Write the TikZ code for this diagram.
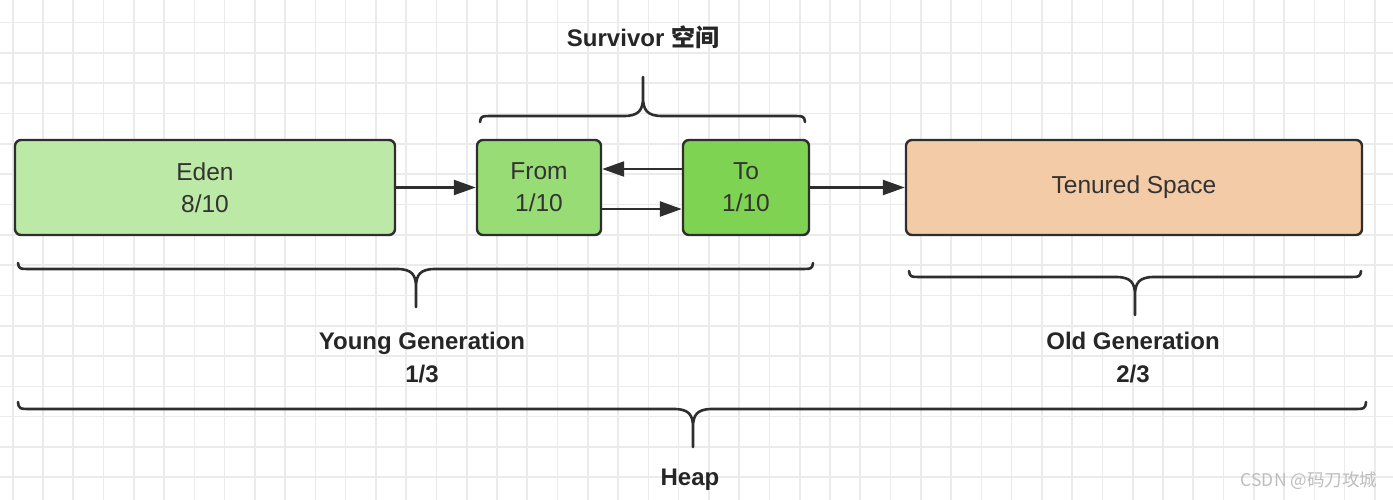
\documentclass[tikz,border=0pt]{standalone}
\usepackage{fontspec}
\setmainfont{Liberation Sans}
\newfontfamily\cjk{Noto Sans CJK SC}
\usepackage{tikz}
\usetikzlibrary{arrows.meta}

\definecolor{edenfill}{HTML}{BCE9A5}
\definecolor{fromfill}{HTML}{98DC76}
\definecolor{tofill}{HTML}{7ED352}
\definecolor{oldfill}{HTML}{F4CBA7}
\definecolor{boxline}{HTML}{2E2E2E}
\definecolor{boxtext}{HTML}{333333}
\definecolor{gridgray}{HTML}{EBEBEB}
\definecolor{marktext}{HTML}{BDBDBD}

\tikzset{
  box/.style={draw=boxline, line width=2.4pt, rounded corners=6pt, text=boxtext,
    font=\fontsize{24.5}{32}\selectfont, align=center, minimum height=95pt, inner sep=0pt},
  flow/.style={draw=boxline, line width=2.4pt, -{Triangle[length=22pt,width=15pt]}},
  bracepath/.style={draw=boxline, line width=2.6pt, line cap=round, line join=round},
  lbl/.style={font=\fontsize{24}{33}\selectfont\bfseries, text=black!85, align=center},
  gridline/.style={draw=gridgray, line width=1.6pt}
}

% left, right, tip x, line y, tip depth, curl
\newcommand{\hbrace}[6]{%
  \draw[bracepath] ({#1},{#4+#6}) .. controls ({#1+1},{#4}) .. ({#1+14},{#4})
    -- ({#3-19},{#4}) .. controls ({#3-4},{#4}) and ({#3},{#4+0.16*(#5)}) .. ({#3},{#4+0.48*(#5)}) -- ({#3},{#4+#5})
    ({#3},{#4+#5}) -- ({#3},{#4+0.48*(#5)}) .. controls ({#3},{#4+0.16*(#5)}) and ({#3+4},{#4}) .. ({#3+19},{#4})
    -- ({#2-14},{#4}) .. controls ({#2-1},{#4}) .. ({#2},{#4+#6});
}

\begin{document}
\begin{tikzpicture}[x=1pt, y=-1pt]
  \useasboundingbox (0,0) rectangle (1393,500);
  \fill[white] (0,0) rectangle (1393,500);

  % grid
  \foreach \gx in {0,...,45}
    \draw[gridline] ({12.7+30.27*\gx},0) -- ++(0,500);
  \foreach \gy in {0,...,15}
    \draw[gridline] (0,{22.7+30.3*\gy}) -- ++(1393,0);

  % spaces
  \node[box, fill=edenfill, minimum width=380pt] (eden) at (205,187.5) {Eden\\8/10};
  \node[box, fill=fromfill, minimum width=124pt] (from) at (539,187.5) {From\\1/10};
  \node[box, fill=tofill, minimum width=126pt] (to) at (746,187.5) {To\\1/10};
  \node[box, fill=oldfill, minimum width=456pt] (old) at (1134,187.5) {Tenured Space};

  \draw[flow] (eden.east) -- (from.west);
  \draw[flow] ([yshift=18.5pt]to.west) -- ([yshift=18.5pt]from.east);
  \draw[flow] ([yshift=-21.5pt]from.east) -- ([yshift=-21.5pt]to.west);
  \draw[flow] (to.east) -- (old.west);

  % braces
  \hbrace{480}{805}{643}{116}{-39}{6}
  \hbrace{18}{813}{416}{269}{38}{-6}
  \hbrace{909}{1361}{1135}{277}{38}{-6}
  \hbrace{18}{1366}{693}{409}{38}{-7}

  \node[lbl] (survivor) at (643,37) {Survivor {\cjk 空间}};
  \node[lbl] (young) at (422,358) {Young Generation\\1/3};
  \node[lbl] (oldgen) at (1133,358) {Old Generation\\2/3};
  \node[lbl] (heap) at (690,480) {Heap};

  \node[font=\cjk\fontsize{17.5}{17.5}\selectfont, text=marktext] (mark) at (1309,481) {CSDN @码刀攻城};
\end{tikzpicture}
\end{document}
